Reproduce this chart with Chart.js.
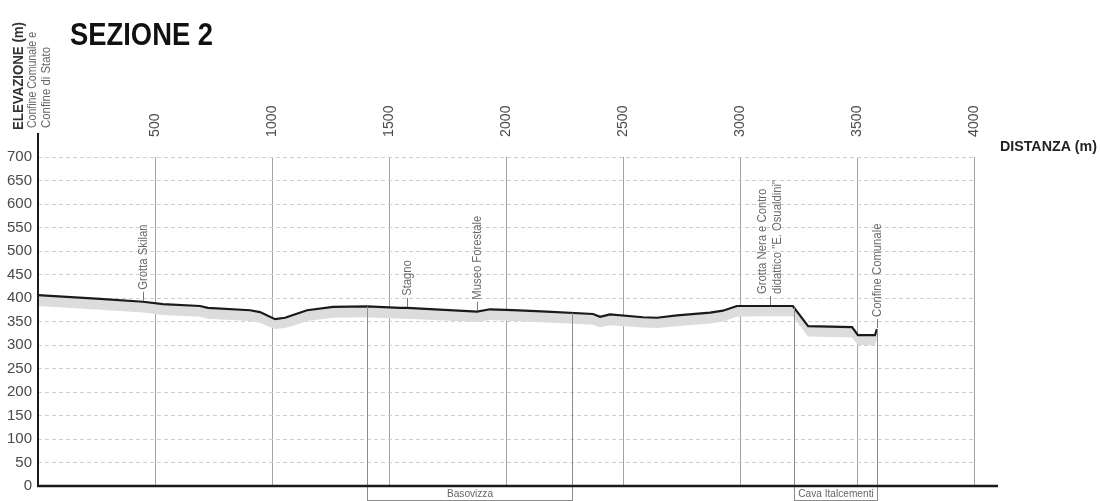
<!DOCTYPE html>
<html>
<head>
<meta charset="utf-8">
<script src="https://cdn.jsdelivr.net/npm/chart.js@4.4.1/dist/chart.umd.min.js"></script>
<style>
html,body{margin:0;padding:0;background:#fff;}
#wrap{position:relative;width:1100px;height:501px;}
</style>
</head>
<body>
<div id="wrap"><canvas id="c" width="1100" height="501"></canvas></div>
<script>
// ---------- DATA ----------
const titleText = 'SEZIONE 2';
const yAxisTitle = 'ELEVAZIONE (m)';
const xAxisTitle = 'DISTANZA (m)';
const originNote = ['Confine Comunale e', 'Confine di Stato'];

const xTickValues = [500, 1000, 1500, 2000, 2500, 3000, 3500, 4000];
const xTickLabels = ['500', '1000', '1500', '2000', '2500', '3000', '3500', '4000'];
const yTickValues = [0, 50, 100, 150, 200, 250, 300, 350, 400, 450, 500, 550, 600, 650, 700];
const yTickLabels = ['0', '50', '100', '150', '200', '250', '300', '350', '400', '450', '500', '550', '600', '650', '700'];

// profile (distance m, elevation m)
const distances  = [0, 265, 449, 534, 692, 726, 906, 949, 1013, 1056, 1090, 1150, 1261, 1406, 1547, 1577, 1876, 1932, 2030, 2175, 2372, 2402, 2444, 2585, 2645, 2731, 2872, 2927, 2987, 3085, 3226, 3291, 3479, 3504, 3577, 3585];
const elevations = [406, 398, 392, 387, 383, 379, 374, 370, 355, 358, 364, 374, 381, 382, 379, 379, 371, 376, 374, 371, 366, 360, 365, 359, 358, 363, 369, 373, 383, 383, 383, 340, 338, 321, 321, 334];
// lower edge of the grey shadow band under the profile
const shadowLow  = [383, 375, 369, 364, 360, 356, 351, 347, 334, 336, 341, 351, 358, 359, 356, 356, 349, 353, 351, 348, 343, 338, 342, 337, 336, 340, 346, 350, 360, 361, 361, 318, 316, 300, 300, 312];

// points of interest along the profile
const poiDistances = [449, 1577, 1876, 3128, 3585];
const poiLabels = [
  ['Grotta Skilan'],
  ['Stagno'],
  ['Museo Forestale'],
  ['Grotta Nera e Contro', 'didattico "E. Osualdini"'],
  ['Confine Comunale']
];

// zones under the axis
const zoneLabels = ['Basovizza', 'Cava Italcementi'];
const zoneStart  = [1406, 3231];
const zoneEnd    = [2282, 3585];

// ---------- helpers ----------
const FONT = "'Liberation Sans', Arial, sans-serif";

function elevAt(d) {
  for (let i = 0; i < distances.length - 1; i++) {
    if (d >= distances[i] && d <= distances[i + 1]) {
      const t = (d - distances[i]) / (distances[i + 1] - distances[i] || 1);
      return elevations[i] + t * (elevations[i + 1] - elevations[i]);
    }
  }
  return elevations[elevations.length - 1];
}

function textFit(ctx, text, x, y, font, targetW, rot, color, baseline) {
  ctx.save();
  ctx.font = font;
  ctx.fillStyle = color;
  ctx.textAlign = 'left';
  ctx.textBaseline = baseline || 'alphabetic';
  const w = ctx.measureText(text).width;
  const s = targetW ? targetW / w : 1;
  ctx.translate(x, y);
  if (rot) ctx.rotate(rot);
  ctx.scale(s, 1);
  ctx.fillText(text, 0, 0);
  ctx.restore();
}

function textScaled(ctx, text, x, y, font, sx, rot, color, baseline, align) {
  ctx.save();
  ctx.font = font;
  ctx.fillStyle = color;
  ctx.textAlign = align || 'left';
  ctx.textBaseline = baseline || 'alphabetic';
  ctx.translate(x, y);
  if (rot) ctx.rotate(rot);
  ctx.scale(sx, 1);
  ctx.fillText(text, 0, 0);
  ctx.restore();
}

const decor = {
  id: 'decor',
  afterDatasetsDraw(chart) {
    const {ctx, scales: {x, y}} = chart;
    const y0 = y.getPixelForValue(0);
    ctx.save();
    // zone boundary lines and boxes
    ctx.strokeStyle = '#8c8c8c';
    ctx.lineWidth = 1;
    for (let i = 0; i < zoneStart.length; i++) {
      [zoneStart[i], zoneEnd[i]].forEach(d => {
        const px = Math.round(x.getPixelForValue(d)) + 0.5;
        const py = y.getPixelForValue(elevAt(d));
        ctx.beginPath(); ctx.moveTo(px, py); ctx.lineTo(px, 501); ctx.stroke();
      });
      const a = Math.round(x.getPixelForValue(zoneStart[i])) + 0.5;
      const b = Math.round(x.getPixelForValue(zoneEnd[i])) + 0.5;
      ctx.beginPath(); ctx.moveTo(a, 500.5); ctx.lineTo(b, 500.5); ctx.stroke();
      textScaled(ctx, zoneLabels[i], (a + b) / 2, y0 + 8, '11px ' + FONT, 0.92, 0, '#666', 'middle', 'center');
    }
    // points of interest
    poiDistances.forEach((d, i) => {
      const px = Math.round(x.getPixelForValue(d)) + 0.5;
      const py = y.getPixelForValue(elevAt(d));
      ctx.strokeStyle = '#777';
      ctx.beginPath(); ctx.moveTo(px, py - 1); ctx.lineTo(px, py - 10); ctx.stroke();
      const lines = poiLabels[i];
      lines.forEach((t, j) => {
        const off = (j - (lines.length - 1) / 2) * 15;
        textScaled(ctx, t, px + off, py - 12, '12px ' + FONT, 0.94, -Math.PI / 2, '#6a6a6a', 'middle', 'left');
      });
    });
    ctx.restore();
  },
  afterDraw(chart) {
    const {ctx, scales: {x, y}, chartArea} = chart;
    const y0 = Math.round(y.getPixelForValue(0));
    ctx.save();
    // axes
    ctx.strokeStyle = '#1a1a1a';
    ctx.lineWidth = 2;
    ctx.beginPath(); ctx.moveTo(chartArea.left, chartArea.top - 24); ctx.lineTo(chartArea.left, y0 + 1); ctx.stroke();
    ctx.lineWidth = 2.5;
    ctx.beginPath(); ctx.moveTo(chartArea.left - 1, y0); ctx.lineTo(998, y0); ctx.stroke();
    // x tick labels (rotated, above the plot)
    xTickValues.forEach((v, i) => {
      const px = x.getPixelForValue(v);
      textScaled(ctx, xTickLabels[i], px, chartArea.top - 20, '15px ' + FONT, 0.95, -Math.PI / 2, '#4a4a4a', 'middle', 'left');
    });
    // titles
    textFit(ctx, titleText, 70, 45, 'bold 32px ' + FONT, 143, 0, '#111');
    textFit(ctx, xAxisTitle, 1000, 151, 'bold 14px ' + FONT, 97, 0, '#222');
    textFit(ctx, yAxisTitle, 23, 130, 'bold 15px ' + FONT, 108, -Math.PI / 2, '#333');
    textFit(ctx, originNote[0], 36, 128, '12px ' + FONT, 96, -Math.PI / 2, '#666');
    textFit(ctx, originNote[1], 50, 128, '12px ' + FONT, 81, -Math.PI / 2, '#666');
    ctx.restore();
  }
};

const profileData = distances.map((d, i) => ({x: d, y: elevations[i]}));
const shadowData = distances.map((d, i) => ({x: d, y: shadowLow[i]}));

new Chart(document.getElementById('c'), {
  type: 'line',
  data: {
    datasets: [
      {
        label: 'Profilo',
        data: profileData,
        borderColor: '#1a1a1a',
        borderWidth: 2.2,
        pointRadius: 0,
        tension: 0,
        fill: false,
        order: 0
      },
      {
        label: 'Ombra',
        data: shadowData,
        borderColor: 'rgba(0,0,0,0)',
        borderWidth: 0,
        pointRadius: 0,
        tension: 0,
        backgroundColor: '#dcdcdc',
        fill: 0,
        order: 1
      }
    ]
  },
  options: {
    responsive: false,
    animation: false,
    devicePixelRatio: 1,
    events: [],
    layout: {padding: {top: 0, left: 0, right: 126, bottom: 15}},
    plugins: {legend: {display: false}, tooltip: {enabled: false}, title: {display: false}},
    scales: {
      x: {
        type: 'linear',
        position: 'top',
        min: 0,
        max: 4000,
        afterBuildTicks: s => { s.ticks = [0].concat(xTickValues).map(v => ({value: v})); },
        ticks: {display: false},
        grid: {
          drawTicks: false,
          color: c => (c.tick && c.tick.value === 0) ? 'rgba(0,0,0,0)' : '#a3a3a3',
          lineWidth: 1
        },
        border: {display: false},
        afterFit: s => { s.height = 157; s.paddingLeft = 0; s.paddingRight = 0; s.paddingTop = 0; s.paddingBottom = 0; }
      },
      y: {
        type: 'linear',
        min: 0,
        max: 700,
        afterBuildTicks: s => { s.ticks = yTickValues.map(v => ({value: v})); },
        ticks: {
          color: '#4a4a4a',
          padding: 6,
          font: {family: FONT, size: 15},
          callback: (v) => { const i = yTickValues.indexOf(v); return i >= 0 ? yTickLabels[i] : ''; }
        },
        grid: {
          drawTicks: false,
          color: c => (c.tick && c.tick.value === 0) ? 'rgba(0,0,0,0)' : '#cfcfcf',
          lineWidth: 1
        },
        border: {display: false, dash: [4, 3]},
        afterFit: s => { s.width = 38; s.paddingTop = 0; s.paddingBottom = 0; s.paddingLeft = 0; s.paddingRight = 0; }
      }
    }
  },
  plugins: [decor]
});
</script>
</body>
</html>
